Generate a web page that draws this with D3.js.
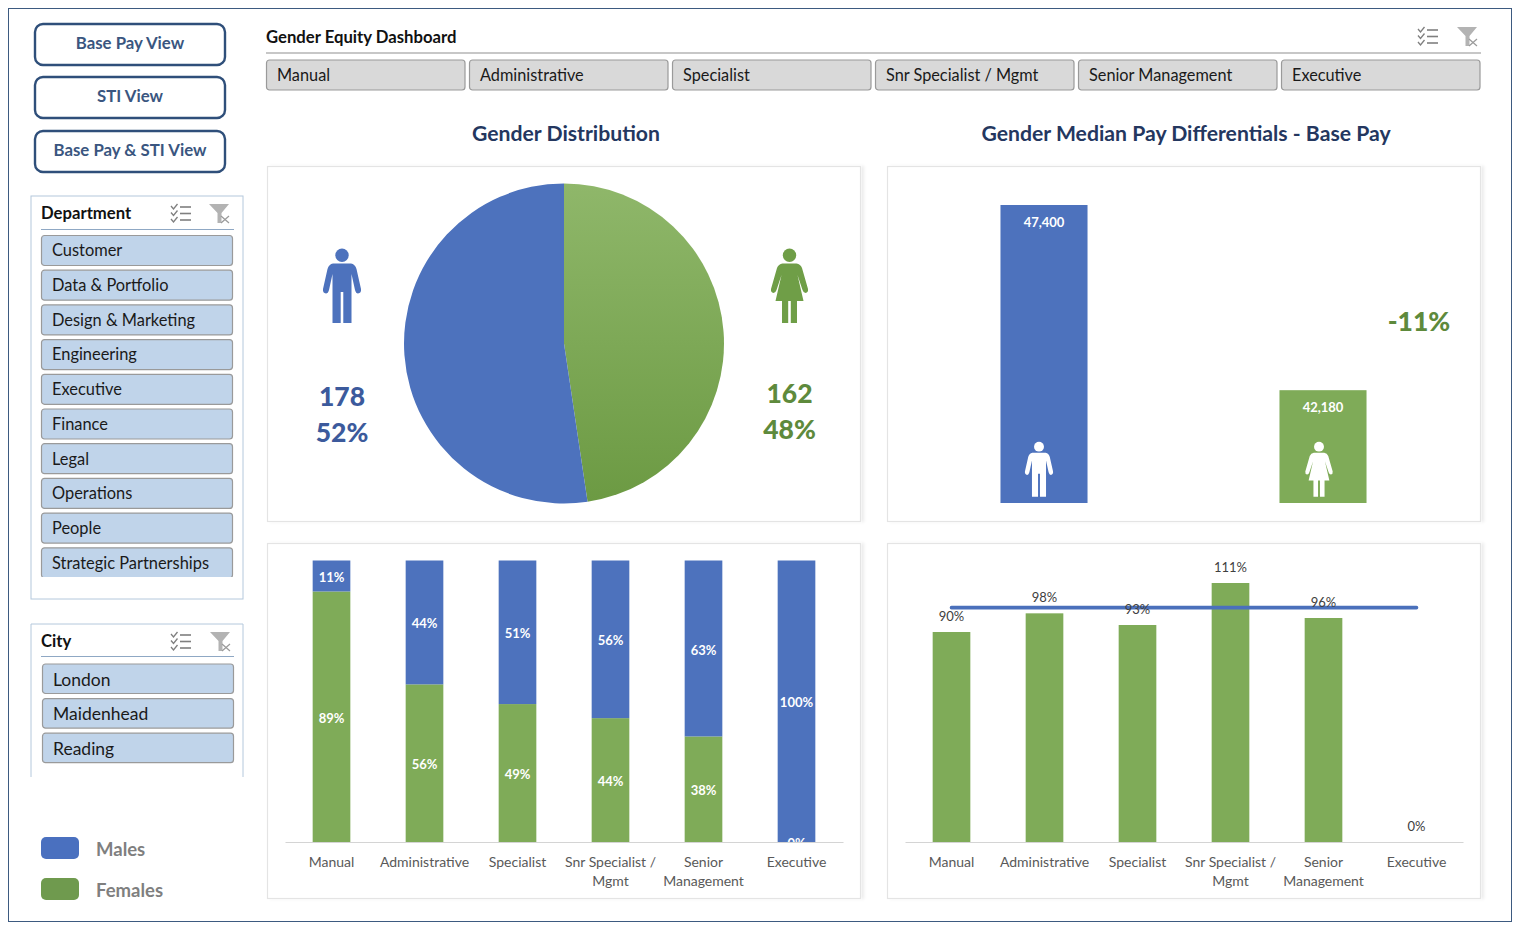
<!DOCTYPE html>
<html>
<head>
<meta charset="utf-8">
<title>Gender Equity Dashboard</title>
<script src="https://cdn.jsdelivr.net/npm/d3@7/dist/d3.min.js"></script>
<style>
	html, body { margin: 0; padding: 0; background: #fff; }
	svg { display: block; }
	text { font-family: Lato, "Open Sans", sans-serif; }
</style>
</head>
<body>
<svg id="chart" width="1520" height="930"></svg>
<script>
	'use strict';

	var views = ['Base Pay View', 'STI View', 'Base Pay & STI View'];
	var departments = ['Customer', 'Data & Portfolio', 'Design & Marketing', 'Engineering', 'Executive',
		'Finance', 'Legal', 'Operations', 'People', 'Strategic Partnerships'];
	var cities = ['London', 'Maidenhead', 'Reading'];
	var grades = ['Manual', 'Administrative', 'Specialist', 'Snr Specialist / Mgmt', 'Senior Management', 'Executive'];
	var genders = ['Females', 'Males'];
	var headcount = [162, 178];
	var headcountShare = ['48%', '52%'];
	var medianPay = [47400, 42180];
	var payGap = '-11%';
	var femaleShare = [89, 56, 49, 44, 37.5, 0];
	var maleShare = [11, 44, 51, 56, 62.5, 100];
	var payRatio = [90, 98, 93, 111, 96, 0];
	var parity = 100;

	var BLUE = '#4d72bd';
	var GREEN = '#7fab58';
	var NAVY = '#24375f';
	var GREY_TEXT = '#595959';

	var svg = d3.select('#chart');
	var defs = svg.append('defs');

	var pieFill = defs.append('linearGradient').attr('id', 'pie-green')
		.attr('x1', 0).attr('y1', 0).attr('x2', 0).attr('y2', 1);
	pieFill.append('stop').attr('offset', '0%').attr('stop-color', '#8fb76a');
	pieFill.append('stop').attr('offset', '100%').attr('stop-color', '#6c9a43');

	var shadow = defs.append('filter').attr('id', 'panel-shadow')
		.attr('x', '-2%').attr('y', '-2%').attr('width', '104%').attr('height', '104%');
	shadow.append('feDropShadow').attr('dx', 3).attr('dy', 0).attr('stdDeviation', 1.5)
		.attr('flood-color', '#000').attr('flood-opacity', 0.07);

	var clipRect = function(id, x, y, w, h) {
		defs.append('clipPath').attr('id', id).append('rect')
			.attr('x', x).attr('y', y).attr('width', w).attr('height', h);
	};

	// outer frame
	svg.append('rect').attr('x', 8.5).attr('y', 8.5).attr('width', 1503).attr('height', 913)
		.attr('fill', '#fff').attr('stroke', '#3d5a80').attr('stroke-width', 1);

	// little icons of the slicer headers
	var drawSlicerIcons = function(x1, x2, y) {
		var list = svg.append('g').attr('transform', 'translate(' + x1 + ',' + y + ')')
			.attr('fill', 'none').attr('stroke', '#7f7f7f');
		[3, 9.5, 16].forEach(function(dy) {
			list.append('path').attr('d', 'M0,' + (dy - 1) + 'l2.5,3l4,-5').attr('stroke-width', 1.3);
			list.append('path').attr('d', 'M9,' + dy + 'h11').attr('stroke-width', 1.6);
		});
		var funnel = svg.append('g').attr('transform', 'translate(' + x2 + ',' + y + ')');
		funnel.append('path').attr('d', 'M0,0h20l-7.5,9v10h-4v-10z').attr('fill', '#b3b3b3');
		funnel.append('path').attr('d', 'M12,12l8,7M20,12l-8,7').attr('stroke', '#9a9a9a')
			.attr('stroke-width', 1.2);
	};

	var drawTiles = function(names, o) {
		var g = svg.append('g');
		if (o.clip) g.attr('clip-path', 'url(#' + o.clip + ')');
		var tile = g.selectAll('g').data(names).enter().append('g')
			.attr('transform', function(d, i) {
				return 'translate(' + (o.x + i * o.dx) + ',' + (o.y + i * o.dy) + ')';
			});
		tile.append('rect')
			.attr('x', 0.5).attr('y', 0.5).attr('rx', 3)
			.attr('width', o.w).attr('height', o.h)
			.attr('fill', o.fill).attr('stroke', '#9a9a9a').attr('stroke-width', 1.2);
		tile.append('text')
			.attr('x', 11).attr('y', o.h / 2 + o.shift).attr('dy', '0.35em')
			.attr('font-size', o.size).attr('fill', '#1a1a1a')
			.text(function(d) { return d; });
	};

	// view buttons
	var buttonY = d3.scaleOrdinal().domain(views).range([24, 77, 131]);
	var button = svg.append('g').selectAll('g').data(views).enter().append('g')
		.attr('transform', function(d) { return 'translate(35,' + buttonY(d) + ')'; });
	button.append('rect')
		.attr('width', 190).attr('height', 41).attr('rx', 8)
		.attr('fill', '#fff').attr('stroke', '#2f4f7a').attr('stroke-width', 2.4);
	button.append('text')
		.attr('x', 95).attr('y', 19).attr('dy', '0.35em').attr('text-anchor', 'middle')
		.attr('font-size', 16.8).attr('font-weight', 700).attr('fill', '#3a5680')
		.text(function(d) { return d; });

	// department slicer
	svg.append('rect').attr('x', 31).attr('y', 196).attr('width', 212).attr('height', 403)
		.attr('fill', '#fff').attr('stroke', '#b4c8dc').attr('stroke-width', 1);
	svg.append('text').attr('x', 41).attr('y', 213).attr('dy', '0.35em')
		.attr('font-size', 16.7).attr('font-weight', 700).attr('fill', '#111').text('Department');
	svg.append('path').attr('d', 'M41,229.5H234').attr('stroke', '#8fa8c4').attr('stroke-width', 1.2);
	drawSlicerIcons(171, 209, 204);
	clipRect('dept-clip', 36, 230, 204, 347);
	drawTiles(departments, {x: 41, y: 235, dx: 0, dy: 34.7, w: 191, h: 30, fill: '#c0d4ea', size: 16.4, shift: 0.6, clip: 'dept-clip'});

	// city slicer
	svg.append('path').attr('d', 'M31,777V624H243V777').attr('fill', 'none')
		.attr('stroke', '#b4c8dc').attr('stroke-width', 1);
	svg.append('text').attr('x', 41).attr('y', 641).attr('dy', '0.35em')
		.attr('font-size', 16.7).attr('font-weight', 700).attr('fill', '#111').text('City');
	svg.append('path').attr('d', 'M41,656.5H234').attr('stroke', '#8fa8c4').attr('stroke-width', 1.2);
	drawSlicerIcons(171, 210, 632);
	drawTiles(cities, {x: 42, y: 663.5, dx: 0, dy: 34.6, w: 191, h: 29.5, fill: '#c0d4ea', size: 17.5, shift: 1.4});

	// legend
	var legendY = d3.scaleOrdinal().domain(['Males', 'Females']).range([837, 878]);
	var legendFill = d3.scaleOrdinal().domain(['Males', 'Females']).range(['#4a70bf', '#6f9a4e']);
	var legend = svg.append('g').selectAll('g').data(legendY.domain()).enter().append('g')
		.attr('transform', function(d) { return 'translate(41,' + legendY(d) + ')'; });
	legend.append('rect').attr('width', 38).attr('height', 22).attr('rx', 5)
		.attr('fill', function(d) { return legendFill(d); });
	legend.append('text').attr('x', 55).attr('y', 13).attr('dy', '0.35em')
		.attr('font-size', 18.5).attr('font-weight', 700).attr('fill', '#7f7f7f')
		.text(function(d) { return d; });

	// top slicer
	svg.append('text').attr('x', 266).attr('y', 37).attr('dy', '0.35em')
		.attr('font-size', 16.7).attr('font-weight', 700).attr('fill', '#111').text('Gender Equity Dashboard');
	svg.append('path').attr('d', 'M266,53H1481').attr('stroke', '#b5b5b5').attr('stroke-width', 1.6);
	drawSlicerIcons(1418, 1457, 27);
	drawTiles(grades, {x: 266, y: 59.5, dx: 203, dy: 0, w: 198.5, h: 30, fill: '#d9d9d9', size: 16.3, shift: 0.5});

	// titles
	svg.append('text').attr('x', 566).attr('y', 134).attr('dy', '0.35em').attr('text-anchor', 'middle')
		.attr('font-size', 21.2).attr('font-weight', 700).attr('fill', NAVY).text('Gender Distribution');
	svg.append('text').attr('x', 1186).attr('y', 134).attr('dy', '0.35em').attr('text-anchor', 'middle')
		.attr('font-size', 21.2).attr('font-weight', 700).attr('fill', NAVY)
		.text('Gender Median Pay Differentials - Base Pay');

	// panels
	var panelX = [267.5, 887.5];
	var panelY = [166.5, 543.5];
	panelY.forEach(function(y) {
		panelX.forEach(function(x) {
			svg.append('rect').attr('x', x).attr('y', y)
				.attr('width', 593).attr('height', 355)
				.attr('fill', '#fff').attr('stroke', '#e4e4e4').attr('stroke-width', 1.2)
				.attr('filter', 'url(#panel-shadow)');
		});
	});

	var malePath = 'M-9,14.5L9,14.5Q13,15 14.5,20L19,40Q19.5,44 16,44.5Q14,44.5 13,41L9.5,25L9.5,74L1.3,74L1.3,43' +
		'L-1.3,43L-1.3,74L-9.5,74L-9.5,25L-13,41Q-14,44.5 -16,44.5Q-19.5,44 -19,40L-14.5,20Q-13,15 -9,14.5Z';
	var femalePath = 'M-7,14.5L7,14.5Q11,15 12.5,19L18.5,40Q19,43.5 16,44Q14,44 13,41L8,26L14,52L7.5,52L7.5,74L1.3,74' +
		'L1.3,52L-1.3,52L-1.3,74L-7.5,74L-7.5,52L-14,52L-8,26L-13,41Q-14,44 -16,44Q-19,43.5 -18.5,40L-12.5,19Q-11,15 -7,14.5Z';

	var drawPerson = function(path, cx, y, scale, fill) {
		var g = svg.append('g').attr('fill', fill)
			.attr('transform', 'translate(' + cx + ',' + y + ') scale(' + scale + ')');
		g.append('circle').attr('cx', 0).attr('cy', 6.3).attr('r', 6.7);
		g.append('path').attr('d', path);
	};

	// pie
	var pie = d3.pie().sort(null).value(function(d) { return d; });
	var arc = d3.arc().innerRadius(0).outerRadius(160);
	svg.append('g').attr('transform', 'translate(564,343.5)')
		.selectAll('path').data(pie(headcount)).enter().append('path')
		.attr('d', arc)
		.attr('fill', function(d, i) { return i === 0 ? 'url(#pie-green)' : BLUE; });

	drawPerson(malePath, 342, 249, 1, BLUE);
	drawPerson(femalePath, 789.5, 249, 1, '#6f9e47');

	var bigNumber = function(x, y, str, fill) {
		svg.append('text').attr('x', x).attr('y', y).attr('dy', '0.35em').attr('text-anchor', 'middle')
			.attr('font-size', 26.5).attr('font-weight', 900).attr('fill', fill).text(str);
	};
	bigNumber(342, 397, headcount[1], '#3c5a9c');
	bigNumber(342, 433, headcountShare[1], '#3c5a9c');
	bigNumber(789.5, 394, headcount[0], '#5e8a3c');
	bigNumber(789.5, 430, headcountShare[0], '#5e8a3c');
	bigNumber(1419, 322, payGap, '#5e8a3c');

	// median pay, the axis does not start at zero
	var payGenders = ['Males', 'Females'];
	var payX = d3.scaleBand().domain(payGenders).range([904.5, 1462.5]).paddingInner(0.688).paddingOuter(0.344);
	var payY = d3.scaleLinear().domain([39000, 47400]).range([503, 205]);
	svg.append('g').selectAll('rect').data(medianPay).enter().append('rect')
		.attr('x', function(d, i) { return payX(payGenders[i]); })
		.attr('y', function(d) { return payY(d); })
		.attr('width', payX.bandwidth())
		.attr('height', function(d) { return payY.range()[0] - payY(d); })
		.attr('fill', function(d, i) { return i === 0 ? BLUE : GREEN; });
	svg.append('g').selectAll('text').data(medianPay).enter().append('text')
		.attr('x', function(d, i) { return payX(payGenders[i]) + payX.bandwidth() / 2; })
		.attr('y', function(d) { return payY(d) + 17.5; })
		.attr('dy', '0.35em').attr('text-anchor', 'middle')
		.attr('font-size', 13).attr('font-weight', 700).attr('fill', '#fff')
		.text(function(d) { return d3.format(',')(d); });
	drawPerson(malePath, payX('Males') + payX.bandwidth() / 2 - 5, 442, 0.74, '#fff');
	drawPerson(femalePath, payX('Females') + payX.bandwidth() / 2 - 4, 442, 0.74, '#fff');

	// shared bottom axis with the labels broken over two lines
	var wrapLabels = {'Snr Specialist / Mgmt': ['Snr Specialist /', 'Mgmt'], 'Senior Management': ['Senior', 'Management']};
	var drawGradeAxis = function(x, y) {
		var axis = svg.append('g').attr('transform', 'translate(0,' + y + ')')
			.call(d3.axisBottom(x).tickSize(0).tickPadding(0));
		axis.select('.domain').attr('stroke', '#d4d4d4').attr('stroke-width', 1.2);
		axis.selectAll('.tick text').each(function(d) {
			var lines = wrapLabels[d] || [d];
			var label = d3.select(this).text(null).attr('y', 0).attr('dy', null)
				.attr('font-family', 'Lato, "Open Sans", sans-serif')
				.attr('font-size', 14).attr('fill', GREY_TEXT);
			lines.forEach(function(line, i) {
				label.append('tspan').attr('x', 0).attr('y', 25 + i * 19).text(line);
			});
		});
	};

	// stacked share by grade
	var shareRows = grades.map(function(g, i) {
		return {grade: g, Females: femaleShare[i], Males: maleShare[i]};
	});
	var shareX = d3.scaleBand().domain(grades).range([285, 843]).paddingInner(0.595).paddingOuter(0.2975);
	var shareY = d3.scaleLinear().domain([0, 100]).range([842, 560.5]);
	clipRect('share-clip', 280, 556, 570, 286);
	var series = d3.stack().keys(genders)(shareRows);
	var layer = svg.append('g').attr('clip-path', 'url(#share-clip)')
		.selectAll('g').data(series).enter().append('g');
	layer.selectAll('rect').data(function(s) { return s; }).enter().append('rect')
		.attr('x', function(d) { return shareX(d.data.grade); })
		.attr('y', function(d) { return shareY(d[1]); })
		.attr('width', shareX.bandwidth())
		.attr('height', function(d) { return shareY(d[0]) - shareY(d[1]); })
		.attr('fill', function() { return d3.select(this.parentNode).datum().key === 'Males' ? BLUE : GREEN; });
	var shareLabels = svg.append('g').attr('clip-path', 'url(#share-clip)');
	series.slice().reverse().forEach(function(s) {
		shareLabels.selectAll(null).data(s).enter().append('text')
			.attr('x', function(d) { return shareX(d.data.grade) + shareX.bandwidth() / 2; })
			.attr('y', function(d) { return shareY((d[0] + d[1]) / 2) + 1.5; })
			.attr('dy', '0.35em').attr('text-anchor', 'middle')
			.attr('font-size', 13).attr('font-weight', 700).attr('fill', '#fff')
			.text(function(d) { return Math.round(d[1] - d[0]) + '%'; });
	});
	drawGradeAxis(shareX, 842);

	// pay ratio by grade with parity line
	var ratioX = d3.scaleBand().domain(grades).range([905, 1463]).paddingInner(0.595).paddingOuter(0.2975);
	var ratioY = d3.scaleLinear().domain([0, 111]).range([842, 583]);
	svg.append('g').selectAll('rect').data(payRatio).enter().append('rect')
		.attr('x', function(d, i) { return ratioX(grades[i]); })
		.attr('y', function(d) { return ratioY(d); })
		.attr('width', ratioX.bandwidth())
		.attr('height', function(d) { return ratioY(0) - ratioY(d); })
		.attr('fill', GREEN);
	var parityLine = d3.line()
		.x(function(d) { return ratioX(d) + ratioX.bandwidth() / 2; })
		.y(function() { return ratioY(parity) - 1; });
	svg.append('path').attr('d', parityLine([grades[0], grades[grades.length - 1]]))
		.attr('fill', 'none').attr('stroke', '#4a70bb').attr('stroke-width', 3.6).attr('stroke-linecap', 'round');
	svg.append('g').selectAll('text').data(payRatio).enter().append('text')
		.attr('x', function(d, i) { return ratioX(grades[i]) + ratioX.bandwidth() / 2; })
		.attr('y', function(d) { return ratioY(d) - 15.5; })
		.attr('dy', '0.35em').attr('text-anchor', 'middle')
		.attr('font-size', 13).attr('fill', '#404040')
		.text(function(d) { return d + '%'; });
	drawGradeAxis(ratioX, 842);
</script>
</body>
</html>
